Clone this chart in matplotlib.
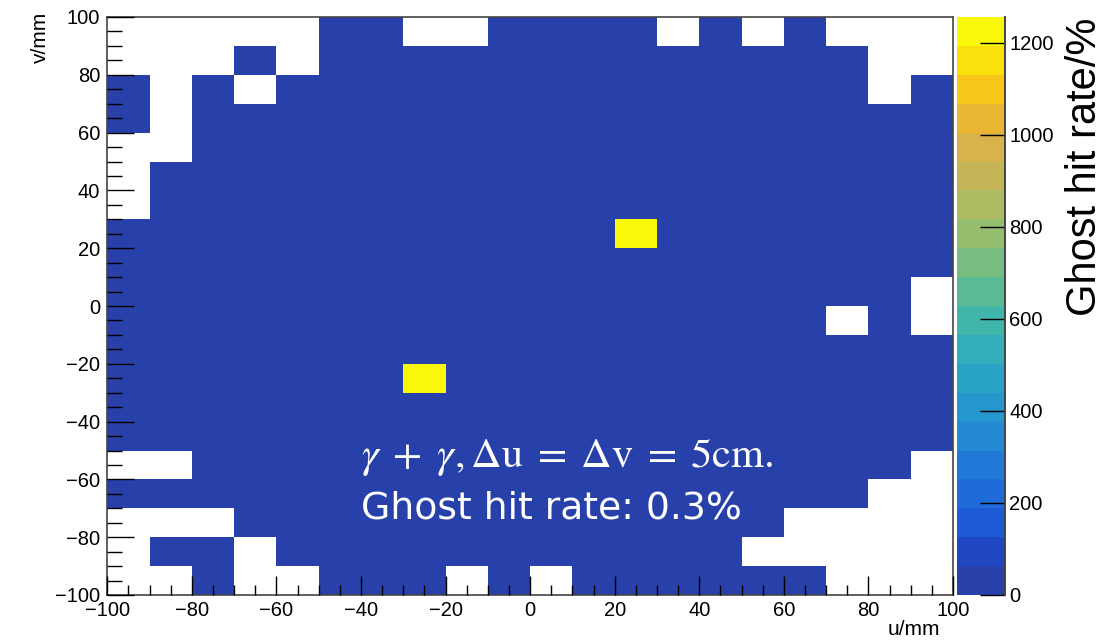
import numpy as np
import matplotlib
matplotlib.use("Agg")
import matplotlib.pyplot as plt
from matplotlib.colors import ListedColormap, BoundaryNorm

# ---- data -------------------------------------------------------------
u_edges = np.arange(-100, 101, 10)          # u/mm bin edges
v_edges = np.arange(-100, 101, 10)          # v/mm bin edges

# occupancy pattern, rows from v = 90..100 (top) down to v = -100..-90
# '.' = empty bin, 'o' = low ghost rate bin, 'Y' = hot bin
pattern = [
    ".....oo..oooo.o.o...",   # 90..100
    "...o.ooooooooooooo..",   # 80..90
    "o.o.oooooooooooooo.o",   # 70..80
    "o.oooooooooooooooooo",   # 60..70
    "..oooooooooooooooooo",   # 50..60
    ".ooooooooooooooooooo",   # 40..50
    ".ooooooooooooooooooo",   # 30..40
    "ooooooooooooYooooooo",   # 20..30
    "oooooooooooooooooooo",   # 10..20
    "ooooooooooooooooooo.",   # 0..10
    "ooooooooooooooooo.o.",   # -10..0
    "oooooooooooooooooooo",   # -20..-10
    "oooooooYoooooooooooo",   # -30..-20
    "oooooooooooooooooooo",   # -40..-30
    "oooooooooooooooooooo",   # -50..-40
    "..ooooooooooooooooo.",   # -60..-50
    "oooooooooooooooooo..",   # -70..-60
    "...ooooooooooooo....",   # -80..-70
    ".oo.ooooooooooo.....",   # -90..-80
    "..o..ooo.o.oooooo...",   # -100..-90
]
low_rate = 5.0        # ghost hit rate of ordinary bins (%)
hot_rate = 1256.0     # ghost hit rate of the two hot bins (%)
z_max = 1256.0
cbar_ticks = [0, 200, 400, 600, 800, 1000, 1200]

band_colors = [
    "#2840aa", "#2047c2", "#1c5ad6", "#1e6bd9", "#2079d6",
    "#2488d2", "#2596ce", "#29a2c7", "#31adbc", "#40b5a9",
    "#5aba93", "#78bd80", "#95bd6e", "#afbb62", "#c5b557",
    "#d8b24a", "#ebb632", "#f8c61a", "#fbe10c", "#f9f70a",
]

# ---- build grid ---------------------------------------------------------
lookup = {".": np.nan, "o": low_rate, "Y": hot_rate}
Z = np.array([[lookup[c] for c in row] for row in pattern[::-1]])
Z = np.ma.masked_invalid(Z)

cmap = ListedColormap(band_colors)
cmap.set_bad("white")
norm = BoundaryNorm(np.linspace(0, z_max, len(band_colors) + 1), cmap.N)

W, H = 1106, 644
fig = plt.figure(figsize=(W / 100, H / 100), dpi=100)
plt.rcParams["font.family"] = ["Liberation Sans", "DejaVu Sans"]
plt.rcParams["mathtext.fontset"] = "stix"

x0, x1, y0, y1 = 107.3, 953, 17, 595
ax = fig.add_axes([x0 / W, 1 - y1 / H, (x1 - x0) / W, (y1 - y0) / H])
mesh = ax.pcolormesh(u_edges, v_edges, Z, cmap=cmap, norm=norm,
                     edgecolors="none", antialiased=False)
ax.set_xlim(-100, 100)
ax.set_ylim(-100, 100)
ax.set_xticks(np.arange(-100, 101, 20))
ax.set_yticks(np.arange(-100, 101, 20))
ax.set_xticks(np.arange(-100, 101, 5), minor=True)
ax.set_yticks(np.arange(-100, 101, 5), minor=True)
ax.tick_params(axis="both", which="both", direction="in", top=False,
               right=False, width=1.0, color="black", labelsize=14.5)
ax.tick_params(axis="y", which="major", length=19.5, pad=5)
ax.tick_params(axis="y", which="minor", length=10.8)
ax.tick_params(axis="x", which="major", length=13.7, pad=4)
ax.tick_params(axis="x", which="minor", length=7.2)
for s in ax.spines.values():
    s.set_color("#444444")
    s.set_linewidth(1.2)
ax.set_axisbelow(False)

# axis titles
fig.text(40 / W, 1 - 12 / H, "v/mm", rotation=90, ha="center", va="top",
         fontsize=15)
fig.text(940 / W, 1 - 620 / H, "u/mm", ha="right", va="top", fontsize=15)

# annotation
ax.text(-40, -55.8,
        r"$\gamma\;+\;\gamma,\Delta\mathrm{u}\;=\;\Delta\mathrm{v}\;=\;5\mathrm{cm}.$",
        color="white", fontsize=30.5, ha="left", va="baseline")
ax.text(-40, -73.4, "Ghost hit rate: 0.3%", color="white", fontsize=27.2,
        ha="left", va="baseline", family=["DejaVu Sans"])

# colour bar
cx0, cx1 = 957, 1005
cax = fig.add_axes([cx0 / W, 1 - y1 / H, (cx1 - cx0) / W, (y1 - y0) / H])
cb = fig.colorbar(mesh, cax=cax, ticks=cbar_ticks)
cb.outline.set_visible(False)
cax.axvline(1.0, color="#444444", lw=1.4, clip_on=False)
cax.tick_params(axis="y", which="major", direction="in", length=18,
                width=1.0, right=True, left=False, labelsize=14.5, pad=3)
cax.minorticks_off()
cax.set_yticklabels([str(t) for t in cbar_ticks])
fig.text(1085 / W, 1 - 18 / H, "Ghost hit rate/%", rotation=90,
         ha="center", va="top", fontsize=30)

fig.savefig("out.png", dpi=100)
